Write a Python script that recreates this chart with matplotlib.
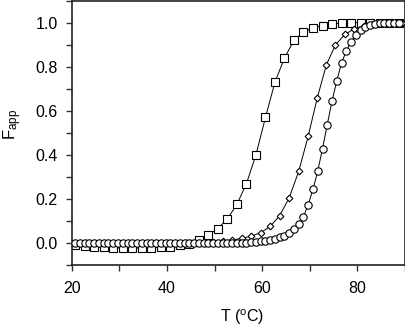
import numpy as np
import matplotlib
matplotlib.use("Agg")
import matplotlib.pyplot as plt
from matplotlib.ticker import MultipleLocator

plt.rcParams['font.family'] = ['Liberation Sans', 'DejaVu Sans']
plt.rcParams['mathtext.fontset'] = 'custom'
plt.rcParams['mathtext.rm'] = 'Liberation Sans'

# Squares (every 2 degC)
sq_T = [20.7, 22.7, 24.7, 26.7, 28.7, 30.7, 32.7, 34.7, 36.7, 38.7, 40.7, 42.7,
        44.7, 46.7, 48.7, 50.7, 52.7, 54.7, 56.7, 58.7, 60.7, 62.7, 64.7, 66.7,
        68.7, 70.7, 72.7, 74.7, 76.7, 78.7, 80.7, 82.7, 84.7, 86.7, 88.7]
sq_F = [-0.01, -0.013, -0.016, -0.019, -0.021, -0.022, -0.022, -0.022, -0.021, -0.019, -0.016, -0.01,
        -0.002, 0.015, 0.037, 0.066, 0.11, 0.176, 0.27, 0.40, 0.57, 0.73, 0.84, 0.92,
        0.957, 0.977, 0.986, 0.992, 1.0, 1.0, 1.0, 1.0, 1.0, 1.0, 1.0]

# Diamonds (every 2 degC)
di_T = [21.7, 23.7, 25.7, 27.7, 29.7, 31.7, 33.7, 35.7, 37.7, 39.7, 41.7, 43.7,
        45.7, 47.7, 49.7, 51.7, 53.7, 55.7, 57.7, 59.7, 61.7, 63.7, 65.7, 67.7,
        69.7, 71.6, 73.5, 75.4, 77.4, 79.4, 81.4, 83.4, 85.4, 87.4, 89.4]
di_F = [0.0, 0.0, 0.0, 0.0, 0.0, 0.0, 0.0, 0.0, 0.0, 0.0, 0.0, 0.0,
        0.001, 0.002, 0.005, 0.009, 0.014, 0.022, 0.032, 0.047, 0.076, 0.125, 0.206, 0.326,
        0.486, 0.659, 0.808, 0.899, 0.947, 0.972, 0.986, 0.993, 0.997, 1.0, 1.0]

# Circles (every 1 degC)
ci_T = [20.7 + k for k in range(69)]
ci_F = [0.0] * 37 + [0.004, 0.006, 0.008, 0.011, 0.015, 0.02, 0.026, 0.034, 0.045, 0.062,
        0.085, 0.12, 0.175, 0.244, 0.327, 0.429, 0.538, 0.644, 0.736, 0.818,
        0.871, 0.914, 0.944, 0.967, 0.982, 0.99, 0.995, 0.998, 1.0, 1.0, 1.0, 1.0]

fig = plt.figure(figsize=(4.06, 3.27), dpi=100)
ax = fig.add_axes([0.177, 0.189, 0.82, 0.809])

ax.plot(sq_T, sq_F, '-', color='black', lw=0.7, marker='s', ms=5.6,
        mfc='white', mec='black', mew=0.8, zorder=2)
ax.plot(di_T, di_F, '-', color='black', lw=0.7, marker='D', ms=3.4,
        mfc='white', mec='black', mew=0.8, zorder=3)
ax.plot(ci_T, ci_F, '-', color='black', lw=0.7, marker='o', ms=5.3,
        mfc='white', mec='black', mew=0.8, zorder=4)

ax.set_xlim(20, 90)
ax.set_ylim(-0.1, 1.1)
ax.xaxis.set_minor_locator(MultipleLocator(10))
ax.yaxis.set_minor_locator(MultipleLocator(0.1))
ax.set_xticks([20, 40, 60, 80])
ax.set_yticks([0.0, 0.2, 0.4, 0.6, 0.8, 1.0])
ax.set_yticklabels(['0.0', '0.2', '0.4', '0.6', '0.8', '1.0'])

ax.tick_params(which='both', direction='out', top=False, right=False,
               labelsize=11.5, width=1.0, color='#333333', length=4.5)
ax.tick_params(axis='x', which='major', pad=7)
ax.tick_params(axis='y', which='major', pad=5.5)
for s in ax.spines.values():
    s.set_linewidth(1.2)
    s.set_color('#222222')

ax.set_xlabel('T ($\\mathregular{^o}$C)', fontsize=11.5, va='top')
ax.xaxis.set_label_coords(0.51, -0.158)
ax.set_ylabel('$\\mathregular{F_{app}}$', fontsize=12, va='center')
ax.yaxis.set_label_coords(-0.179, 0.532)

fig.savefig('out.png', dpi=100)
